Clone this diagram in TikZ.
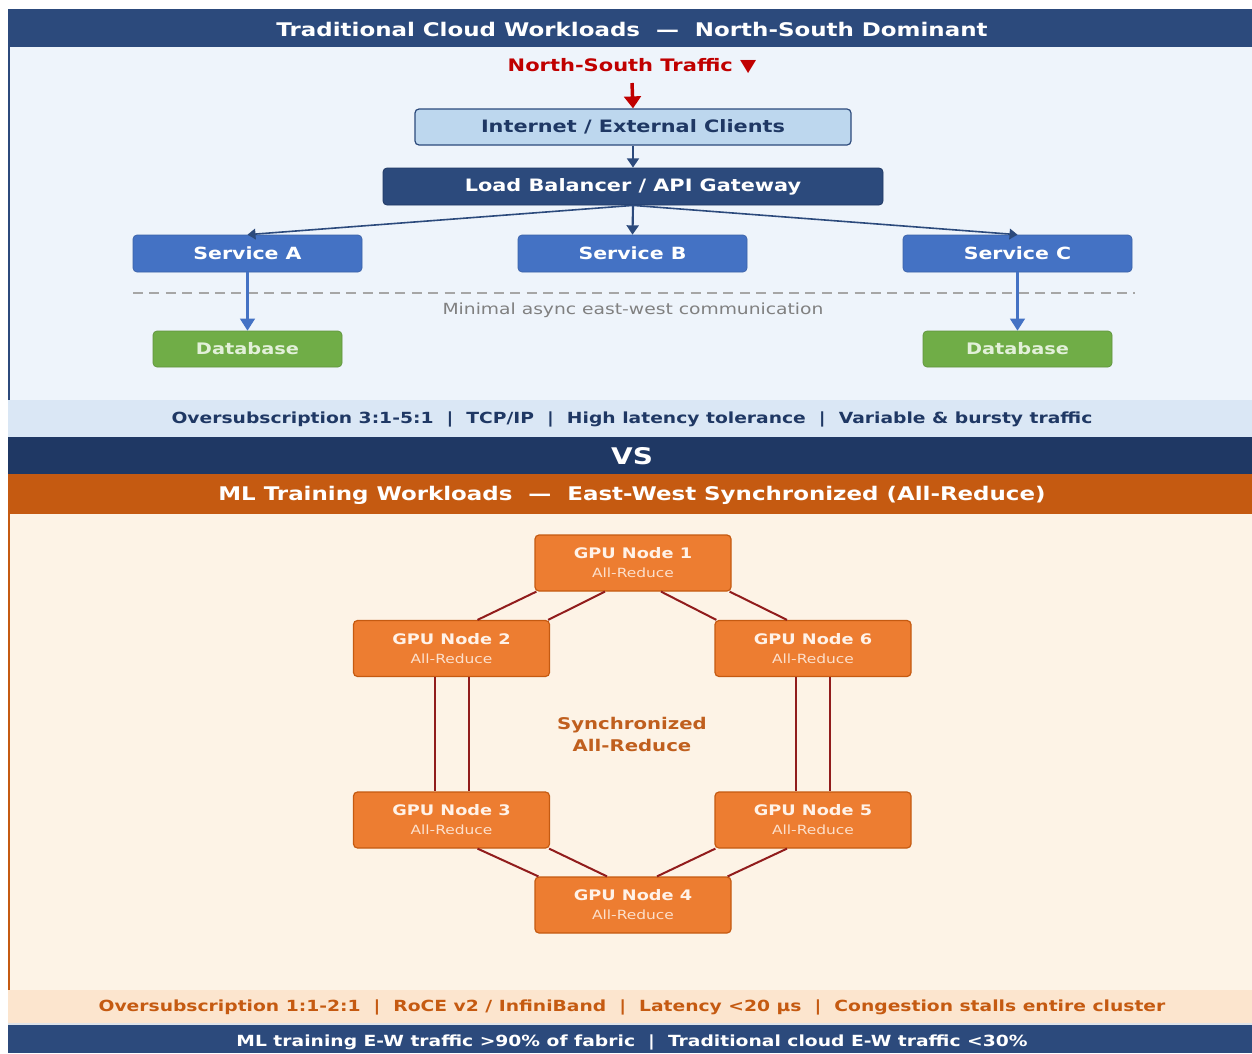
\documentclass[tikz,border=0pt]{standalone}
\usepackage{fontspec}
\setmainfont{DejaVu Sans}[FakeStretch=1.22]
\usetikzlibrary{arrows.meta,calc}
\definecolor{hdrblue}{RGB}{44,74,124}
\definecolor{navy}{RGB}{31,56,100}
\definecolor{topbg}{RGB}{238,244,251}
\definecolor{bandone}{RGB}{218,231,245}
\definecolor{orhdr}{RGB}{197,90,17}
\definecolor{botbg}{RGB}{253,243,230}
\definecolor{bandtwo}{RGB}{252,229,206}
\definecolor{nsred}{RGB}{192,0,0}
\definecolor{inetfill}{RGB}{189,215,238}
\definecolor{svcblue}{RGB}{68,114,196}
\definecolor{dbgreen}{RGB}{112,173,71}
\definecolor{dbtext}{RGB}{226,240,217}
\definecolor{gpuor}{RGB}{237,125,49}
\definecolor{gpuedge}{RGB}{197,90,17}
\definecolor{gputxt}{RGB}{255,242,232}
\definecolor{gputxtb}{RGB}{252,224,204}
\definecolor{linkred}{RGB}{145,28,28}
\definecolor{synctxt}{RGB}{192,95,30}
\definecolor{dashgray}{RGB}{166,166,166}
\definecolor{mintxt}{RGB}{128,128,128}
\tikzset{
  hdrtxt/.style={font=\fontsize{14.1}{17}\selectfont\bfseries, text=white, inner sep=0pt},
  bandtxt/.style={font=\fontsize{11.5}{14}\selectfont\bfseries, inner sep=0pt},
  box/.style={rounded corners=3pt, inner sep=0pt, align=center, font=\fontsize{12.8}{15}\selectfont\bfseries},
  inetbox/.style={box, fill=inetfill, draw=hdrblue, line width=0.9pt, minimum width=327pt, minimum height=27pt, text=navy},
  lbbox/.style={box, fill=hdrblue, draw=navy, line width=0.6pt, minimum width=375pt, minimum height=27.75pt, text=white},
  svcbox/.style={box, fill=svcblue, draw=svcblue!85!black, line width=0.5pt, minimum width=171.75pt, minimum height=27.75pt, text=white, font=\fontsize{12.6}{15}\selectfont\bfseries},
  dbbox/.style={box, fill=dbgreen, draw=dbgreen!85!black, line width=0.5pt, minimum width=141.75pt, minimum height=27pt, text=dbtext, font=\fontsize{11.9}{14}\selectfont\bfseries},
  gpubox/.style={box, fill=gpuor, draw=gpuedge, line width=0.9pt, minimum width=147pt, minimum height=42pt, text=gputxt, font=\fontsize{10.9}{14.2}\selectfont\bfseries},
  redarrow/.style={draw=nsred, line width=2.6pt, -{Triangle[width=12.5pt,length=9pt]}},
  navyarrow/.style={draw=hdrblue, line width=1.6pt, -{Triangle[width=9pt,length=7pt]}},
  thinarrow/.style={draw=hdrblue, line width=1.2pt, -{Triangle[width=8pt,length=6pt]}},
  svcarrow/.style={draw=svcblue, line width=1.6pt, -{Triangle[width=11pt,length=9pt]}},
  link/.style={draw=linkred, line width=1.5pt},
}
\newcommand{\gpulabel}[1]{GPU Node #1\\{\fontsize{9.5}{14.2}\selectfont\mdseries\color{gputxtb}All-Reduce}}
\begin{document}
\begin{tikzpicture}[x=0.75pt,y=-0.75pt]
\useasboundingbox (0,0) rectangle (1252,1053);
% backgrounds
\fill[hdrblue] (8,9) rectangle (1252,47);
\fill[topbg] (8,47) rectangle (1252,400);
\draw[hdrblue, line width=1.5pt] (9,47) -- (9,400);
\fill[bandone] (8,400) rectangle (1252,437);
\fill[navy] (8,437) rectangle (1252,474);
\fill[orhdr] (8,474) rectangle (1252,514);
\fill[botbg] (8,514) rectangle (1252,990);
\draw[orhdr, line width=1.5pt] (9,514) -- (9,990);
\fill[bandtwo] (8,990) rectangle (1252,1024);
\fill[hdrblue] (8,1024) rectangle (1252,1053);
\draw[white!85!hdrblue, line width=0.8pt] (8,1024) -- (1252,1024);
% top section
\node[hdrtxt] (title1) at (632,29) {Traditional Cloud Workloads\ \ —\ \ North-South Dominant};
\node[font=\fontsize{12.9}{15}\selectfont\bfseries, text=nsred, inner sep=0pt] (nstxt) at (632,66) {North-South Traffic ▼};
\coordinate (nsstart) at (632,83);
\node[inetbox] (inet) at (633,127) {Internet / External Clients};
\node[lbbox] (lb) at (633,186.5) {Load Balancer / API Gateway};
\node[svcbox] (sa) at (247.5,253.5) {Service A};
\node[svcbox] (sb) at (632.5,253.5) {Service B};
\node[svcbox] (sc) at (1017.5,253.5) {Service C};
\node[dbbox] (dba) at (247.5,349) {Database};
\node[dbbox] (dbc) at (1017.5,349) {Database};
\draw[dashgray, line width=1.5pt, dash pattern=on 7.5pt off 4.8pt] (133,293) -- (1135,293);
\node[font=\fontsize{11.5}{13}\selectfont, text=mintxt, inner sep=0pt] (mintext) at (633,310) {Minimal async east-west communication};
\draw[redarrow] (nsstart) -- (inet.north);
\draw[navyarrow] (inet.south) -- (lb.north);
\draw[thinarrow] (lb.south) -- (sa.north);
\draw[navyarrow] (lb.south) -- (sb.north);
\draw[thinarrow] (lb.south) -- (sc.north);
\draw[svcarrow] (sa.south) -- (dba.north);
\draw[svcarrow] (sc.south) -- (dbc.north);
\node[bandtxt, text=navy] (band1) at (632,419) {Oversubscription 3:1-5:1\ \ |\ \ TCP/IP\ \ |\ \ High latency tolerance\ \ |\ \ Variable \& bursty traffic};
\node[font=\fontsize{17.2}{20}\selectfont\bfseries, text=white, inner sep=0pt] (vs) at (632,456) {VS};
\node[hdrtxt] (title2) at (632,495) {ML Training Workloads\ \ —\ \ East-West Synchronized (All-Reduce)};
% GPU ring
\node[gpubox] (g1) at (633,563) {\gpulabel{1}};
\node[gpubox] (g2) at (451.5,648.5) {\gpulabel{2}};
\node[gpubox] (g6) at (813,648.5) {\gpulabel{6}};
\node[gpubox] (g3) at (451.5,820) {\gpulabel{3}};
\node[gpubox] (g5) at (813,820) {\gpulabel{5}};
\node[gpubox] (g4) at (633,905) {\gpulabel{4}};
\node[font=\fontsize{12.1}{16.5}\selectfont\bfseries, text=synctxt, align=center, inner sep=0pt] (sync) at (632,734) {Synchronized\\All-Reduce};
\draw[link] ($(g1.south west)+(2,0)$) -- ($(g2.north)+(26,0)$);
\draw[link] ($(g1.south)+(-28,0)$) -- ($(g2.north east)+(-2,0)$);
\draw[link] ($(g1.south east)+(-2,0)$) -- ($(g6.north)+(-26,0)$);
\draw[link] ($(g1.south)+(28,0)$) -- ($(g6.north west)+(2,0)$);
\draw[link] ($(g2.south)+(-17,0)$) -- ($(g3.north)+(-17,0)$);
\draw[link] ($(g2.south)+(17,0)$) -- ($(g3.north)+(17,0)$);
\draw[link] ($(g6.south)+(-17,0)$) -- ($(g5.north)+(-17,0)$);
\draw[link] ($(g6.south)+(17,0)$) -- ($(g5.north)+(17,0)$);
\draw[link] ($(g3.south)+(26,0)$) -- ($(g4.north west)+(4,0)$);
\draw[link] ($(g3.south east)+(-1,0)$) -- ($(g4.north)+(-26,0)$);
\draw[link] ($(g5.south)+(-26,0)$) -- ($(g4.north east)+(-4,0)$);
\draw[link] ($(g5.south west)+(1,0)$) -- ($(g4.north)+(24,0)$);
% bottom bands
\node[bandtxt, text=orhdr] (band2) at (632,1007) {Oversubscription 1:1-2:1\ \ |\ \ RoCE v2 / InfiniBand\ \ |\ \ Latency <20 µs\ \ |\ \ Congestion stalls entire cluster};
\node[bandtxt, text=white] (band3) at (632,1042) {ML training E-W traffic >90\% of fabric\ \ |\ \ Traditional cloud E-W traffic <30\%};
\end{tikzpicture}
\end{document}
